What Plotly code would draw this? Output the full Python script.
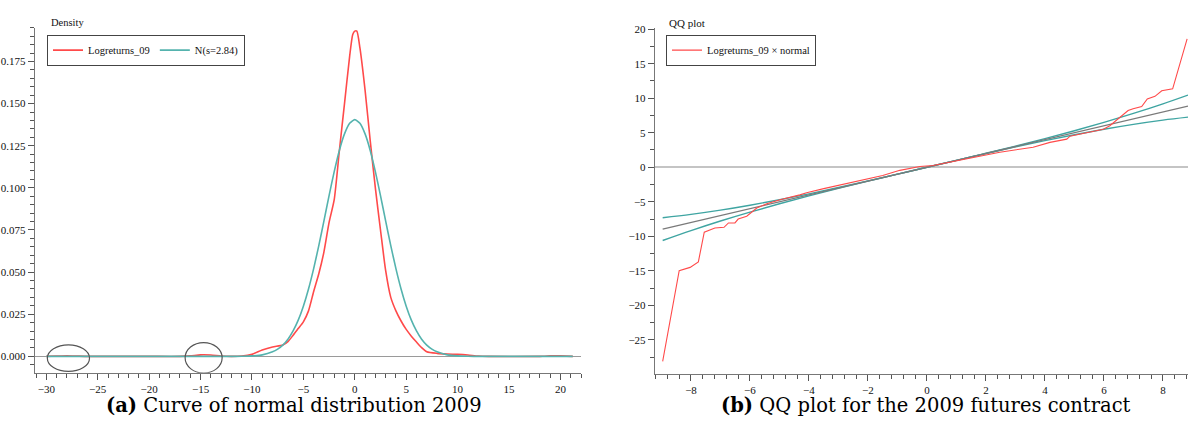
import plotly.graph_objects as go

# ---------------- data: left panel (density) ----------------
dens_x = [-30, -29, -28, -27, -26, -25, -20, -17, -16, -15, -14, -13, -12, -11, -10, -9, -8,
          -7, -6.5, -6, -5.5, -5, -4.5, -4, -3.5, -3, -2.5, -2, -1.5, -1, -0.5, -0.2, 0, 0.2,
          0.5, 1, 1.5, 2, 2.5, 3, 3.5, 4, 4.5, 5, 5.5, 6, 6.5, 7, 8, 9, 10, 11, 12, 13, 18,
          19, 19.5, 20, 21.2]
dens_red = [0.0, 0.0002, 0.0004, 0.0002, 0.0, 0.0, 0.0, 0.0, 0.0003, 0.0009, 0.0008, 0.0002,
            0.0, 0.0002, 0.0012, 0.0038, 0.0056, 0.0068, 0.0088, 0.0125, 0.0165, 0.0205,
            0.027, 0.0385, 0.049, 0.062, 0.0795, 0.093, 0.122, 0.150, 0.178, 0.191, 0.193,
            0.193, 0.183, 0.158, 0.128, 0.100, 0.075, 0.051, 0.035, 0.027, 0.021, 0.016,
            0.012, 0.0085, 0.0052, 0.0028, 0.0018, 0.0014, 0.0012, 0.0008, 0.0002, 0.0, 0.0,
            0.0003, 0.0004, 0.0003, 0.0]

norm_x = [-30, -20, -12, -11, -10, -9, -8, -7.5, -7, -6.5, -6, -5.5, -5, -4.5, -4, -3.5, -3,
          -2.5, -2, -1.5, -1, -0.5, 0, 0.5, 1, 1.5, 2, 2.5, 3, 3.5, 4, 4.5, 5, 5.5, 6, 6.5,
          7, 7.5, 8, 9, 10, 11, 12, 21.2]
norm_y = [0.0, 0.0, 0.0, 0.0001, 0.0003, 0.0009, 0.0027, 0.0043, 0.0067, 0.0102, 0.0151,
          0.0215, 0.0298, 0.0400, 0.0521, 0.0657, 0.0804, 0.0954, 0.1096, 0.1222, 0.1320,
          0.1383, 0.1405, 0.1383, 0.1320, 0.1222, 0.1096, 0.0954, 0.0804, 0.0657, 0.0521,
          0.0400, 0.0298, 0.0215, 0.0151, 0.0102, 0.0067, 0.0043, 0.0027, 0.0009, 0.0003,
          0.0001, 0.0, 0.0]

# highlighted regions (circles): [x0, x1, y0, y1]
circle_a = [-29.9, -25.8, -0.0089, 0.0068]
circle_b = [-16.5, -12.9, -0.0099, 0.0082]

# ---------------- data: right panel (QQ) ----------------
qq_x = [-8.96, -8.40, -8.03, -7.75, -7.55, -7.19, -6.88, -6.73, -6.51, -6.40, -6.11, -5.94,
        -5.77, -5.43, -4.98, -4.31, -4.08, -3.5, -3.0, -2.5, -2.0, -1.5, -0.92, -0.24, 0.21,
        1.35, 2.47, 3.6, 4.17, 4.74, 4.85, 5.41, 5.98, 6.2, 6.54, 6.82, 6.99, 7.28, 7.47,
        7.73, 7.96, 8.33, 8.82]
qq_y = [-28.1, -14.97, -14.5, -13.7, -9.4, -8.8, -8.7, -8.07, -8.07, -7.5, -7.1, -6.5, -5.9,
        -5.3, -4.7, -4.0, -3.7, -3.1, -2.6, -2.2, -1.6, -1.2, -0.45, 0.1, 0.26, 1.2, 2.17,
        2.9, 3.6, 4.07, 4.5, 5.0, 5.5, 6.0, 7.2, 8.2, 8.46, 8.8, 9.9, 10.26, 11.07, 11.36,
        18.6]

ref_x = [-8.96, 8.85]
ref_y = [-8.96, 8.85]

band_x = [-8.96, -8, -7, -6, -5, -4, -3, -2, -1, 0, 1, 2, 3, 4, 5, 6, 7, 8, 8.85]
band_upper = [-7.31, -6.82, -6.21, -5.5, -4.71, -3.85, -2.94, -1.98, -1.0, 0, 1.0, 2.02,
              3.06, 4.15, 5.29, 6.5, 7.79, 9.18, 10.45]
band_lower = [-10.61, -9.18, -7.79, -6.5, -5.29, -4.15, -3.06, -2.02, -1.0, 0, 1.0, 1.98,
              2.94, 3.85, 4.71, 5.5, 6.21, 6.82, 7.25]

# tick steps (major, minor)
dens_xstep, dens_xminor = 5, 1
dens_ystep, dens_yminor = 0.025, 0.005
qq_xstep, qq_xminor = 2, 0.4
qq_ystep, qq_yminor = 5, 2.5

RED = "#ff4a4a"
TEAL = "#55b3ae"
TEAL2 = "#3fa5a2"
GRAY = "#7a7a7a"
TICK = "#555"
FONT = "Liberation Serif"

fig = go.Figure()

fig.add_trace(go.Scatter(x=dens_x, y=dens_red, mode="lines", name="Logreturns_09",
                         line=dict(color=RED, width=1.6, shape="spline", smoothing=0.6),
                         xaxis="x", yaxis="y", legend="legend"))
fig.add_trace(go.Scatter(x=norm_x, y=norm_y, mode="lines", name="N(s=2.84)",
                         line=dict(color=TEAL, width=1.6, shape="spline", smoothing=0.6),
                         xaxis="x", yaxis="y", legend="legend"))

fig.add_trace(go.Scatter(x=band_x, y=band_upper, mode="lines", showlegend=False,
                         line=dict(color=TEAL2, width=1.4, shape="spline"),
                         xaxis="x2", yaxis="y2"))
fig.add_trace(go.Scatter(x=band_x, y=band_lower, mode="lines", showlegend=False,
                         line=dict(color=TEAL2, width=1.4, shape="spline"),
                         xaxis="x2", yaxis="y2"))
fig.add_trace(go.Scatter(x=ref_x, y=ref_y, mode="lines", showlegend=False,
                         line=dict(color=GRAY, width=1.4),
                         xaxis="x2", yaxis="y2"))
fig.add_trace(go.Scatter(x=qq_x, y=qq_y, mode="lines", name="Logreturns_09 × normal",
                         line=dict(color=RED, width=1.1),
                         xaxis="x2", yaxis="y2", legend="legend2"))

axis_common = dict(showline=True, linecolor="#777", linewidth=1.4, ticks="outside",
                   ticklen=6, tickcolor=TICK, tickwidth=1.3, showgrid=False,
                   tickmode="linear", tick0=0,
                   tickfont=dict(family=FONT, size=11, color="#111"))


def minor(dt):
    return dict(ticks="outside", ticklen=4, tickmode="linear", tick0=0, dtick=dt,
                tickcolor=TICK, tickwidth=1.1, showgrid=False)


fig.update_layout(
    width=1188, height=436,
    margin=dict(l=0, r=0, t=0, b=0),
    paper_bgcolor="white", plot_bgcolor="white",
    xaxis=dict(domain=[35 / 1188, 581 / 1188], range=[-31.1, 22.0], anchor="y",
               dtick=dens_xstep, zeroline=False, minor=minor(dens_xminor), **axis_common),
    yaxis=dict(domain=[64 / 436, 413 / 436], range=[-0.0097, 0.195], anchor="x",
               dtick=dens_ystep, tickformat=".3f",
               zeroline=True, zerolinecolor="#9a9a9a", zerolinewidth=1.2,
               minor=minor(dens_yminor), **axis_common),
    xaxis2=dict(domain=[655 / 1188, 1.0], range=[-9.22, 8.85], anchor="y2",
                dtick=qq_xstep, zeroline=False, minor=minor(qq_xminor), **axis_common),
    yaxis2=dict(domain=[63 / 436, 413 / 436], range=[-29.9, 20.2], anchor="x2",
                dtick=qq_ystep,
                zeroline=True, zerolinecolor="#c4c4c4", zerolinewidth=2,
                minor=minor(qq_yminor), **axis_common),
    legend=dict(x=47 / 1188, y=406 / 436, xanchor="left", yanchor="top",
                orientation="h", bgcolor="white", bordercolor="#444", borderwidth=1,
                font=dict(family=FONT, size=10.5, color="#111"), itemwidth=30,
                tracegroupgap=0),
    legend2=dict(x=666 / 1188, y=406 / 436, xanchor="left", yanchor="top",
                 orientation="h", bgcolor="white", bordercolor="#444", borderwidth=1,
                 font=dict(family=FONT, size=10.5, color="#111"), itemwidth=30),
    showlegend=True,
)

for c in (circle_a, circle_b):
    fig.add_shape(type="circle", xref="x", yref="y", x0=c[0], x1=c[1], y0=c[2], y1=c[3],
                  line=dict(color="#555", width=1.2))

fig.add_annotation(text="Density", xref="paper", yref="paper", x=49 / 1188, y=(436 - 18) / 436,
                   xanchor="left", yanchor="middle", showarrow=False,
                   font=dict(family=FONT, size=10.5, color="#111"))
fig.add_annotation(text="QQ plot", xref="paper", yref="paper", x=667 / 1188, y=(436 - 18) / 436,
                   xanchor="left", yanchor="middle", showarrow=False,
                   font=dict(family=FONT, size=11, color="#111"))
fig.add_annotation(text="<b>(a)</b> Curve of normal distribution 2009", xref="paper",
                   yref="paper", x=294 / 1188, y=(436 - 405) / 436, xanchor="center",
                   yanchor="middle", showarrow=False,
                   font=dict(family="DejaVu Serif", size=19.5, color="#000"))
fig.add_annotation(text="<b>(b)</b> QQ plot for the 2009 futures contract", xref="paper",
                   yref="paper", x=926 / 1188, y=(436 - 405) / 436, xanchor="center",
                   yanchor="middle", showarrow=False,
                   font=dict(family="DejaVu Serif", size=19.5, color="#000"))

fig.write_html("out.html")
